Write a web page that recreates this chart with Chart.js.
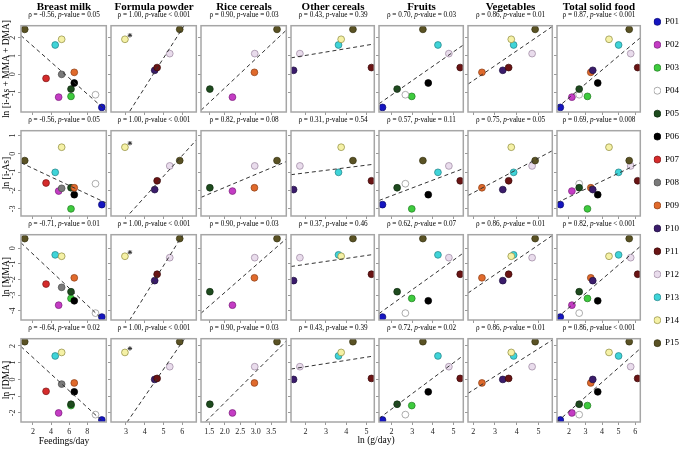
<!DOCTYPE html>
<html><head><meta charset="utf-8">
<script src="https://cdn.jsdelivr.net/npm/chart.js@4.4.1/dist/chart.umd.min.js"></script>
<style>
html,body{margin:0;padding:0;background:#fff;}
#wrap{position:relative;width:685px;height:449px;overflow:hidden;font-family:"Liberation Serif","Times New Roman",serif;color:#000;}
canvas{position:absolute;}
.t{position:absolute;white-space:nowrap;transform:translate(-50%,-50%);line-height:1;}
.r{transform:translate(-50%,-50%) rotate(-90deg);}
</style></head><body><div id="wrap"></div>
<script>
// ---------------- DATA ----------------
const participants = ['P01','P02','P03','P04','P05','P06','P07','P08','P09','P10','P11','P12','P13','P14','P15'];
const fillColors = ['#1515c0','#c43cc4','#3ecb3e','#ffffff','#1e4b1e','#000000','#d52b2b','#7a7a7a','#e06a2c','#3b1c6b','#6a1414','#e9dcec','#3fd4d8','#f5f1a6','#5a5224'];
const edgeColors = ['#0c0c70','#7a1f7a','#237a23','#8a8a8a','#0f2a0f','#000000','#7a1515','#4a4a4a','#8a3c14','#201040','#3a0a0a','#9a849e','#238084','#8c8a3c','#34300f'];

const columnTitles = ['Breast milk','Formula powder','Rice cereals','Other cereals','Fruits','Vegetables','Total solid food'];
const rowTitles = ['ln [i-As + MMA + DMA]','ln [i-As]','ln [MMA]','ln [DMA]'];

// urinary biomarkers (ln), one value per participant
const lnTotalAs = [-1.80,-1.24,-1.20,-1.11,-0.80,-0.47,-0.22,0.00,0.11,0.22,0.37,1.13,1.60,1.91,2.45];
const lnIAs     = [-2.77,-2.03,-3.00,-1.63,-1.85,-2.23,-1.59,-1.88,-1.85,-1.95,-1.47,-0.66,-1.01,0.36,-0.37];
const lnMMA     = [-4.40,-3.64,-3.21,-4.15,-2.78,-3.36,-2.29,-2.50,-1.89,-2.07,-1.66,-0.60,-0.42,-0.51,0.62];
const lnDMA     = [-2.42,-2.00,-1.56,-2.10,-1.48,-0.74,-0.71,-0.28,-0.21,0.00,0.06,0.76,1.40,1.61,2.25];

// dietary exposures, one value per participant (null = not consumed)
const breastMilk    = [9.60,4.84,6.20,8.90,6.20,6.56,3.45,5.17,6.56,null,null,null,4.46,5.17,1.10];
const formulaPowder = [null,null,null,null,null,null,null,null,null,4.53,4.66,5.33,null,2.95,5.86];
const riceCereals   = [null,2.25,null,null,1.52,null,null,null,2.96,null,null,2.97,null,null,3.69];
const otherCereals  = [null,null,null,null,null,null,null,null,null,1.41,5.24,1.72,3.62,3.75,4.33];
const fruits        = [1.56,null,2.98,2.67,2.27,3.78,null,null,null,null,5.33,4.78,4.25,null,3.52];
const vegetables    = [null,null,null,null,null,null,null,null,2.40,3.36,3.63,4.71,3.86,3.75,4.85];
const totalSolid    = [1.48,2.18,3.12,2.62,2.62,3.74,null,null,3.32,3.44,6.15,5.73,5.00,4.42,5.64];

// participants excluded from the fitted line (marked with *)
const fitExcluded = [[],['P14'],[],[],[],[],[]];

// correlation annotations
const rhoTotal = ['-0.56','1.00','0.90','0.43','0.70','0.86','0.87'];
const pTotal   = ['= 0.05','< 0.001','= 0.03','= 0.39','= 0.03','= 0.01','< 0.001'];
const rhoIAs   = ['-0.56','1.00','0.82','0.31','0.57','0.75','0.69'];
const pIAs     = ['= 0.05','< 0.001','= 0.08','= 0.54','= 0.11','= 0.05','= 0.008'];
const rhoMMA   = ['-0.71','1.00','0.90','0.37','0.62','0.86','0.82'];
const pMMA     = ['= 0.01','< 0.001','= 0.03','= 0.46','= 0.07','= 0.01','< 0.001'];
const rhoDMA   = ['-0.64','1.00','0.90','0.43','0.72','0.86','0.86'];
const pDMA     = ['= 0.02','< 0.001','= 0.03','= 0.39','= 0.02','= 0.01','< 0.001'];

// tick labels
const xTickLabels = [['2','4','6','8'],['3','4','5','6'],['1.5','2.0','2.5','3.0','3.5'],['2','3','4','5'],['2','3','4','5'],['2','3','4','5'],['2','3','4','5','6']];
const yTickLabels = [['-1','0','1','2'],['-3','-2','-1','0','1'],['-4','-3','-2','-1','0'],['-2','-1','0','1','2']];
const xRange = [[0.69,10.09],[2.21,6.74],[1.234,3.99],[1.283,5.38],[1.39,5.48],[1.758,5.64],[1.28,6.31]];
const yRange = [[-2.05,2.65],[-3.39,1.26],[-4.59,0.87],[-2.54,2.43]];
const xTitles = ['Feedings/day','ln (g/day)'];

// ---------------- LAYOUT ----------------
const colLeft  = [21,111,201,291,379,468,557];
const colRight = [107,197,287,375,464,553,641];
const rowTop    = [25,130,234,338];
const rowBottom = [112,216,320,422];
const PADL = 20, PADB = 20, PADT = 4, PADR = 4;
const FRAME = '#a6a6a6';
const SERIF = '"Liberation Serif","Times New Roman",serif';

const wrap = document.getElementById('wrap');
function addText(html, x, y, size, extra){
  const d = document.createElement('div');
  d.className = 't' + (extra && extra.rot ? ' r' : '');
  d.style.left = x + 'px'; d.style.top = y + 'px'; d.style.fontSize = size + 'px';
  if (extra && extra.bold) d.style.fontWeight = 'bold';
  d.innerHTML = html;
  wrap.appendChild(d);
}

function fitLine(xs, ys){
  const n = xs.length;
  const mx = xs.reduce((s,v)=>s+v,0)/n, my = ys.reduce((s,v)=>s+v,0)/n;
  let sxy=0, sxx=0;
  for (let i=0;i<n;i++){ sxy += (xs[i]-mx)*(ys[i]-my); sxx += (xs[i]-mx)*(xs[i]-mx); }
  const b = sxy/sxx; return {a: my - b*mx, b};
}

const panelPlugin = {
  id: 'panel',
  afterDatasetsDraw(chart, args, opts){
    const {ctx, chartArea: a} = chart;
    const xs = chart.scales.x, ys = chart.scales.y;
    ctx.save();
    // star markers for excluded points
    const meta = chart.getDatasetMeta(1);
    const ds = chart.data.datasets[1];
    ctx.strokeStyle = '#333'; ctx.fillStyle = '#333';
    ds.data.forEach((pt, i) => {
      if (opts.excluded.includes(pt.p)) {
        const el = meta.data[i];
        Chart.helpers.drawPoint(ctx, {pointStyle:'star', radius:2.2, borderWidth:1, rotation:0}, el.x + 5, el.y - 4);
      }
    });
    // frame
    ctx.strokeStyle = FRAME; ctx.lineWidth = 1.5;
    ctx.strokeRect(a.left, a.top, a.right - a.left, a.bottom - a.top);
    // tick labels
    ctx.fillStyle = '#222';
    ctx.font = '8px ' + SERIF;
    if (opts.showX) {
      ctx.textAlign = 'center'; ctx.textBaseline = 'middle';
      opts.xLabels.forEach(l => ctx.fillText(l, xs.getPixelForValue(Number(l)), a.bottom + 10));
    }
    if (opts.showY) {
      opts.yLabels.forEach(l => {
        ctx.save();
        ctx.translate(a.left - 8, ys.getPixelForValue(Number(l)));
        ctx.rotate(-Math.PI/2);
        ctx.textAlign = 'center'; ctx.textBaseline = 'middle';
        ctx.fillText(l, 0, 0);
        ctx.restore();
      });
    }
    ctx.restore();
  }
};

const biomarkers = [lnTotalAs, lnIAs, lnMMA, lnDMA];
const exposures = [breastMilk, formulaPowder, riceCereals, otherCereals, fruits, vegetables, totalSolid];
const rhos = [rhoTotal, rhoIAs, rhoMMA, rhoDMA];
const ps = [pTotal, pIAs, pMMA, pDMA];

for (let r = 0; r < 4; r++) {
  for (let c = 0; c < 7; c++) {
    const pts = [], bg = [], bd = [], fx = [], fy = [];
    participants.forEach((p, i) => {
      const xv = exposures[c][i], yv = biomarkers[r][i];
      if (xv == null || yv == null) return;
      pts.push({x: xv, y: yv, p});
      bg.push(fillColors[i]); bd.push(edgeColors[i]);
      if (!fitExcluded[c].includes(p)) { fx.push(xv); fy.push(yv); }
    });
    const {a, b} = fitLine(fx, fy);
    const [x0, x1] = xRange[c];
    const w = colRight[c] - colLeft[c], h = rowBottom[r] - rowTop[r];
    const cv = document.createElement('canvas');
    cv.width = w + PADL + PADR; cv.height = h + PADT + PADB;
    cv.style.left = (colLeft[c] - PADL) + 'px'; cv.style.top = (rowTop[r] - PADT) + 'px';
    cv.style.width = cv.width + 'px'; cv.style.height = cv.height + 'px';
    wrap.appendChild(cv);
    const xTicks = xTickLabels[c].map(Number), yTicks = yTickLabels[r].map(Number);
    new Chart(cv, {
      type: 'scatter',
      data: { datasets: [
        { type:'line', data:[{x:x0, y:a + b*x0},{x:x1, y:a + b*x1}], borderColor:'#333', borderWidth:1, borderDash:[4,3], pointRadius:0, fill:false, order:0 },
        { data: pts, pointRadius:3.4, pointBackgroundColor:bg, pointBorderColor:bd, pointBorderWidth:0.7, order:1 }
      ]},
      options: {
        responsive:false, animation:false, events:[], devicePixelRatio:1,
        layout:{ padding:{ top:PADT, right:PADR, left:0, bottom:0 } },
        plugins:{ legend:{display:false}, tooltip:{enabled:false},
          panel:{ showX: r === 3, showY: c === 0, xLabels: xTickLabels[c], yLabels: yTickLabels[r], excluded: fitExcluded[c] } },
        scales:{
          x:{ type:'linear', min:x0, max:x1,
              afterBuildTicks: s => { s.ticks = xTicks.map(v => ({value:v})); },
              afterFit: s => { s.height = PADB; },
              ticks:{display:false}, border:{display:false},
              grid:{drawOnChartArea:false, drawTicks:true, tickLength:3, color:'#999', lineWidth:1} },
          y:{ type:'linear', min:yRange[r][0], max:yRange[r][1],
              afterBuildTicks: s => { s.ticks = yTicks.map(v => ({value:v})); },
              afterFit: s => { s.width = PADL; },
              ticks:{display:false}, border:{display:false},
              grid:{drawOnChartArea:false, drawTicks:true, tickLength:3, color:'#999', lineWidth:1} }
        }
      },
      plugins:[panelPlugin]
    });
  }
}

// ---------------- TEXT ----------------
columnTitles.forEach((t, c) => addText(t, (colLeft[c] + colRight[c]) / 2, 6, 11, {bold:true}));
for (let r = 0; r < 4; r++) {
  for (let c = 0; c < 7; c++) {
    addText('\u03C1 = ' + rhos[r][c] + ', <i>p</i>-value ' + ps[r][c], (colLeft[c] + colRight[c]) / 2, rowTop[r] - 9, 7.2);
  }
  addText(rowTitles[r], 7, (rowTop[r] + rowBottom[r]) / 2, 9.5, {rot:true});
}
addText(xTitles[0], (colLeft[0] + colRight[0]) / 2, 442, 9.5);
addText(xTitles[1], 376, 441, 9.5);

// ---------------- LEGEND ----------------
const lg = document.createElement('canvas');
lg.width = 37; lg.height = 363;
lg.style.left = '649px'; lg.style.top = '1px'; lg.style.width = '37px'; lg.style.height = '363px';
wrap.appendChild(lg);
new Chart(lg, {
  type:'scatter',
  data:{ datasets:[{ data: participants.map((p, i) => ({x:0, y:i + 1})), pointRadius:3.5,
    pointBackgroundColor: fillColors, pointBorderColor: edgeColors, pointBorderWidth:0.7 }] },
  options:{
    responsive:false, animation:false, events:[], devicePixelRatio:1,
    layout:{padding:0},
    plugins:{legend:{display:false}, tooltip:{enabled:false}},
    scales:{
      x:{ display:false, min:-1, max:1 },
      y:{ position:'right', reverse:true, min:0.5, max:15.5,
          afterBuildTicks: s => { s.ticks = participants.map((p, i) => ({value:i + 1})); },
          afterFit: s => { s.width = 25; },
          ticks:{ callback: v => participants[v - 1], font:{family:SERIF, size:9}, color:'#000', padding:4 },
          grid:{display:false, drawTicks:false}, border:{display:false} }
    }
  }
});
</script></body></html>
